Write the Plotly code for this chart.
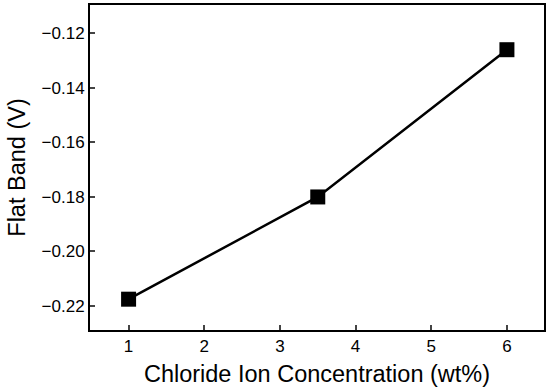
import plotly.graph_objects as go

concentration = [1, 3.5, 6]
flat_band = [-0.2175, -0.180, -0.126]
x_ticks = [1, 2, 3, 4, 5, 6]
y_ticks = [-0.22, -0.20, -0.18, -0.16, -0.14, -0.12]
y_tick_labels = ["\u22120.22", "\u22120.20", "\u22120.18", "\u22120.16", "\u22120.14", "\u22120.12"]

fig = go.Figure()
fig.add_trace(go.Scatter(
    x=concentration, y=flat_band, mode="lines+markers",
    line=dict(color="black", width=2.5),
    marker=dict(symbol="square", size=15, color="black"),
    showlegend=False,
))

font = "Liberation Sans, Arial, sans-serif"
fig.update_layout(
    width=550, height=391,
    margin=dict(l=90, r=6, t=5, b=61),
    paper_bgcolor="white", plot_bgcolor="white",
    font=dict(family=font, color="black"),
)
fig.update_xaxes(
    range=[0.49, 6.49], tickvals=x_ticks, ticks="inside", ticklen=5, tickwidth=2,
    showline=True, linewidth=2, linecolor="black", mirror=True, showgrid=False, zeroline=False,
    automargin=False,
    tickfont=dict(size=17), title=dict(text="Chloride Ion Concentration (wt%)", font=dict(size=23.5), standoff=10),
)
fig.update_yaxes(
    range=[-0.2288, -0.1096], tickvals=y_ticks, ticktext=y_tick_labels, ticks="inside", ticklen=5, tickwidth=2,
    showline=True, linewidth=2, linecolor="black", mirror=True, showgrid=False, zeroline=False,
    automargin=False,
    tickfont=dict(size=17), title=dict(text="Flat Band (V)", font=dict(size=23.5), standoff=9),
)
fig.write_html("out.html", config={"displayModeBar": False},
               post_script="document.body.style.margin='0px';")
